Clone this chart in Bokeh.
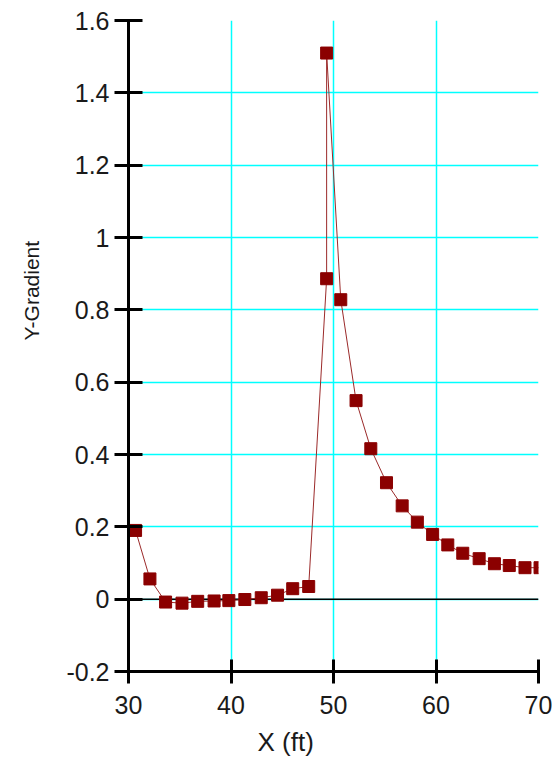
from bokeh.plotting import figure
from bokeh.models import FixedTicker, Span, Title
from bokeh.embed import file_html
from bokeh.resources import INLINE

# Data
x_ft = [30.69, 32.09, 33.62, 35.22, 36.75, 38.35, 39.79, 41.35, 42.95, 44.54,
        46.02, 47.58, 49.33, 49.33, 50.71, 52.20, 53.64, 55.17, 56.70, 58.18,
        59.67, 61.15, 62.61, 64.21, 65.70, 67.15, 68.68, 70.15]
y_grad = [0.190, 0.056, -0.008, -0.011, -0.006, -0.005, -0.004, -0.001, 0.004, 0.011,
          0.029, 0.035, 0.886, 1.510, 0.828, 0.549, 0.416, 0.322, 0.258, 0.213,
          0.179, 0.150, 0.127, 0.112, 0.098, 0.093, 0.087, 0.087]

x_ticks = [30, 40, 50, 60, 70]
x_tick_labels = ["30", "40", "50", "60", "70"]
y_ticks = [-0.2, 0, 0.2, 0.4, 0.6, 0.8, 1, 1.2, 1.4, 1.6]
y_tick_labels = ["-0.2", "0", "0.2", "0.4", "0.6", "0.8", "1", "1.2", "1.4", "1.6"]

x_label = "X (ft)"
y_label = "Y-Gradient"

FONT = "Liberation Sans"

p = figure(width=552, height=767, x_range=(30, 70), y_range=(-0.2, 1.6),
           output_backend="svg", toolbar_location=None,
           min_border_left=126, min_border_right=14, min_border_top=20,
           min_border_bottom=96)
p.outline_line_color = None
p.background_fill_color = "white"
p.border_fill_color = "white"

# Grid
p.xgrid.ticker = FixedTicker(ticks=x_ticks)
p.ygrid.ticker = FixedTicker(ticks=y_ticks)
p.grid.grid_line_color = "#00FFFF"
p.grid.grid_line_width = 1.5

# Zero line
p.add_layout(Span(location=0, dimension="width", line_color="black",
                  line_width=1.5, level="underlay"))

# Axes
p.xaxis.ticker = FixedTicker(ticks=x_ticks)
p.yaxis.ticker = FixedTicker(ticks=y_ticks)
p.xaxis.major_label_overrides = {t: l for t, l in zip(x_ticks, x_tick_labels)}
p.yaxis.major_label_overrides = {t: l for t, l in zip(y_ticks, y_tick_labels)}
for ax in (p.xaxis[0], p.yaxis[0]):
    ax.axis_line_color = "black"
    ax.axis_line_width = 3
    ax.major_tick_line_color = "black"
    ax.major_tick_line_width = 3
    ax.minor_tick_line_color = None
    ax.major_label_text_font = FONT
    ax.major_label_text_font_size = "25px"
    ax.major_label_text_color = "#1a1a1a"
p.xaxis.major_tick_in = 12
p.xaxis.major_tick_out = 12
p.yaxis.major_tick_in = 14
p.yaxis.major_tick_out = 14
p.xaxis.major_label_standoff = 12
p.yaxis.major_label_standoff = 5

# Axis titles (placed off-centre, as in the reference)
p.add_layout(Title(text=x_label, align="left", offset=129, standoff=17,
                   vertical_align="bottom",
                   text_font=FONT, text_font_size="26px", text_font_style="normal",
                   text_color="#1a1a1a"), "below")
p.add_layout(Title(text=y_label, align="left", offset=331, standoff=38,
                   vertical_align="top",
                   text_font=FONT, text_font_size="21px", text_font_style="normal",
                   text_color="#1a1a1a"), "left")

# Series
p.line(x_ft, y_grad, line_color="#9B2A2A", line_width=1)
p.scatter(x_ft, y_grad, marker="square", size=12,
          fill_color="#8B0000", line_color="#8B0000")

open("out.html", "w").write(file_html(p, INLINE))
